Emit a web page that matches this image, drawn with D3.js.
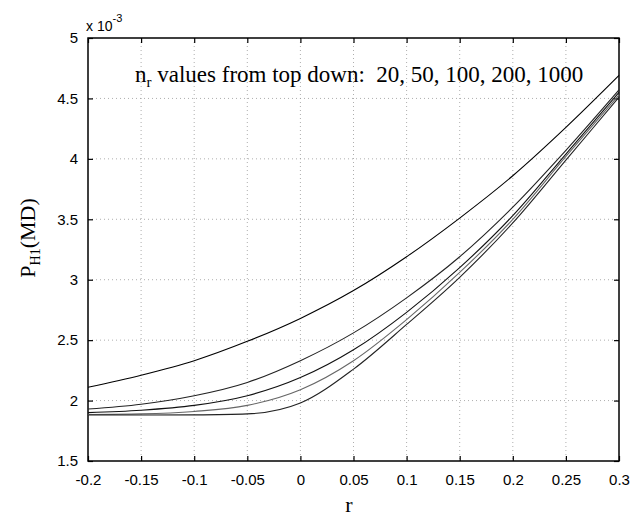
<!DOCTYPE html>
<html>
<head>
<meta charset="utf-8">
<script src="https://cdn.jsdelivr.net/npm/d3@7"></script>
<style>
  body { margin: 0; background: #fff; }
  .grid line { stroke: #999; stroke-dasharray: 1 3; stroke-width: 0.8; }
  .tick text { font-family: "Liberation Sans", Arial, sans-serif; font-size: 15px; fill: #000; }
  .serif { font-family: "Liberation Serif", "Times New Roman", serif; fill: #000; white-space: pre; }
</style>
</head>
<body>
<svg id="chart"></svg>
<script>
"use strict";

const rValues = [-0.2, -0.15, -0.1, -0.05, 0, 0.05, 0.1, 0.15, 0.2, 0.25, 0.3];
const nr20   = [2.11, 2.21, 2.33, 2.49, 2.68, 2.91, 3.19, 3.51, 3.86, 4.26, 4.69];
const nr50   = [1.93, 1.97, 2.04, 2.15, 2.33, 2.56, 2.85, 3.19, 3.60, 4.07, 4.57];
const nr100  = [1.90, 1.92, 1.96, 2.04, 2.19, 2.42, 2.73, 3.10, 3.53, 4.04, 4.55];
const nr200  = [1.885, 1.89, 1.91, 1.96, 2.09, 2.33, 2.67, 3.06, 3.50, 4.02, 4.53];
const nr1000 = [1.88, 1.88, 1.882, 1.89, 1.98, 2.26, 2.63, 3.02, 3.47, 3.99, 4.51];
const seriesList = [nr20, nr50, nr100, nr200, nr1000];
const seriesColors = ['#000', '#222', '#111', '#666', '#222'];

const xTicks = [-0.2, -0.15, -0.1, -0.05, 0, 0.05, 0.1, 0.15, 0.2, 0.25, 0.3];
const yTicks = [1.5, 2, 2.5, 3, 3.5, 4, 4.5, 5];

const W = 633, H = 519;
const mLeft = 88, mRight = 619, mTop = 38, mBottom = 461;

const svg = d3.select('#chart').attr('width', W).attr('height', H);

const x = d3.scaleLinear().domain([-0.2, 0.3]).range([mLeft, mRight]);
const y = d3.scaleLinear().domain([1.5, 5]).range([mBottom, mTop]);

// grid
const grid = svg.append('g').attr('class', 'grid');
grid.selectAll('.gx').data(xTicks.slice(1, -1)).enter().append('line')
  .attr('x1', d => x(d)).attr('x2', d => x(d))
  .attr('y1', mTop).attr('y2', mBottom);
grid.selectAll('.gy').data(yTicks.slice(1, -1)).enter().append('line')
  .attr('y1', d => y(d)).attr('y2', d => y(d))
  .attr('x1', mLeft).attr('x2', mRight);

// axes with inward ticks (matlab style)
const fmt = d => String(d);
svg.append('g').attr('transform', `translate(0,${mBottom})`)
  .call(d3.axisBottom(x).tickValues(xTicks).tickFormat(fmt).tickSizeInner(-5).tickSizeOuter(0).tickPadding(13))
  .call(g => g.select('.domain').remove());
svg.append('g').attr('transform', `translate(0,${mTop})`)
  .call(d3.axisTop(x).tickValues(xTicks).tickFormat('').tickSizeInner(-5).tickSizeOuter(0))
  .call(g => g.select('.domain').remove());
svg.append('g').attr('transform', `translate(${mLeft},0)`)
  .call(d3.axisLeft(y).tickValues(yTicks).tickFormat(fmt).tickSizeInner(-5).tickSizeOuter(0).tickPadding(10))
  .call(g => g.select('.domain').remove());
svg.append('g').attr('transform', `translate(${mRight},0)`)
  .call(d3.axisRight(y).tickValues(yTicks).tickFormat('').tickSizeInner(-5).tickSizeOuter(0))
  .call(g => g.select('.domain').remove());

svg.selectAll('.tick line').attr('stroke', '#000').attr('stroke-width', 1.2);

// box
svg.append('rect')
  .attr('x', mLeft).attr('y', mTop)
  .attr('width', mRight - mLeft).attr('height', mBottom - mTop)
  .attr('fill', 'none').attr('stroke', '#000').attr('stroke-width', 1.5);

// curves
const line = d3.line()
  .x((d, i) => x(rValues[i]))
  .y(d => y(d))
  .curve(d3.curveMonotoneX);

svg.selectAll('.curve').data(seriesList).enter().append('path')
  .attr('class', 'curve')
  .attr('d', line)
  .attr('fill', 'none')
  .attr('stroke', (d, i) => seriesColors[i])
  .attr('stroke-width', 1.1);

// exponent label
const expo = svg.append('text')
  .attr('x', mLeft - 2).attr('y', 31)
  .style('font-family', '"Liberation Sans", Arial, sans-serif')
  .style('font-size', '14px');
expo.append('tspan').text('x 10');
expo.append('tspan').attr('dy', -9).style('font-size', '11px').text('-3');

// annotation
const note = svg.append('text').attr('class', 'serif')
  .attr('x', 135).attr('y', 82)
  .style('font-size', '23px');
note.append('tspan').text('n');
note.append('tspan').attr('dy', 5).style('font-size', '15px').text('r');
note.append('tspan').attr('dy', -5).text(' values from top down:  20, 50, 100, 200, 1000');

// y label
const yl = svg.append('text').attr('class', 'serif')
  .attr('transform', 'translate(35,238) rotate(-90)')
  .attr('text-anchor', 'middle')
  .style('font-size', '22px');
yl.append('tspan').text('P');
yl.append('tspan').attr('dy', 5).style('font-size', '14px').text('H1');
yl.append('tspan').attr('dy', -5).text('(MD)');

// x label
svg.append('text').attr('class', 'serif')
  .attr('x', 349).attr('y', 512)
  .attr('text-anchor', 'middle')
  .style('font-size', '22px')
  .text('r');
</script>
</body>
</html>
